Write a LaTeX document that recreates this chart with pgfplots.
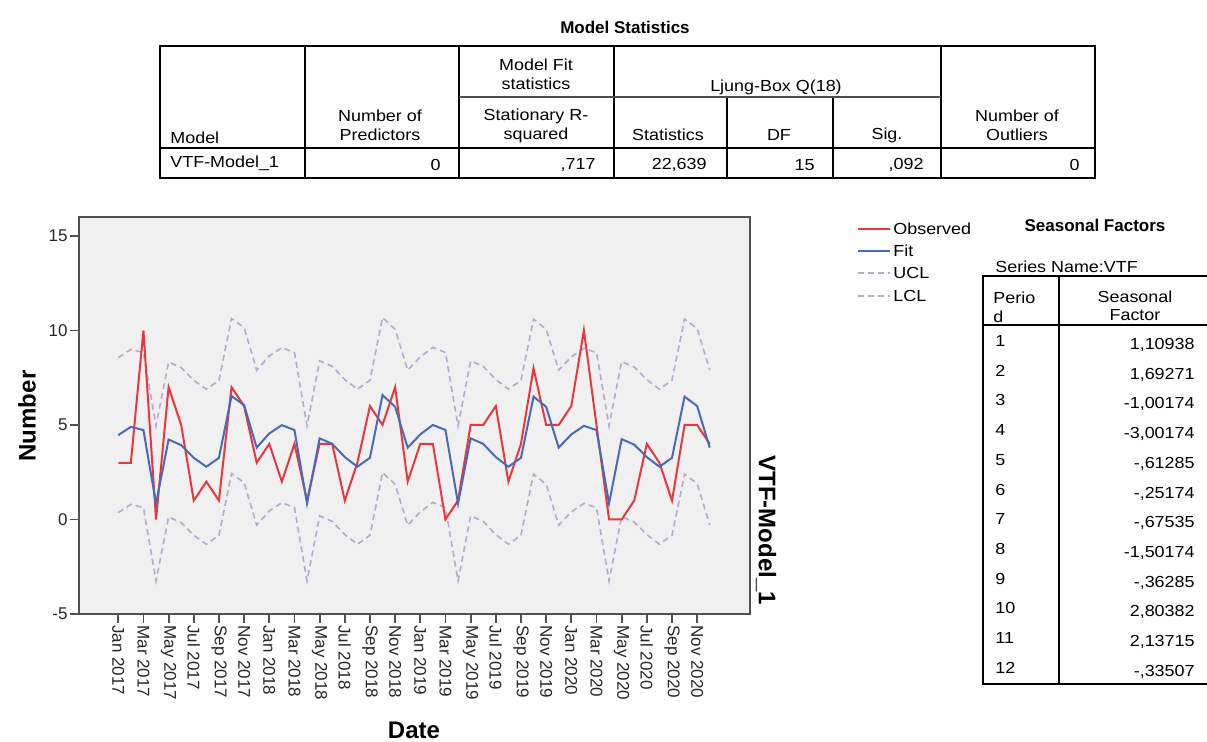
\documentclass[border=0pt]{standalone}
\usepackage{fontspec}
\setmainfont{Liberation Sans}
\newfontfamily\wide[FakeStretch=1.12]{Liberation Sans}
\usepackage{pgfplots}
\usepackage{pgfplotstable}
\pgfplotsset{compat=1.18}

\definecolor{obsred}{HTML}{E8383D}
\definecolor{fitblue}{HTML}{4A6AB8}
\definecolor{clpurple}{HTML}{B9A9CF}
\definecolor{plotbg}{HTML}{F0F0F0}
\definecolor{framegray}{HTML}{505050}

% month index (0 = Jan 2017), observed, fit, upper and lower confidence limits
\pgfplotstableread{
x  obs fit  ucl   lcl
0  3  4.46  8.56  0.36
1  3  4.90  9.00  0.80
2  10 4.73  8.83  0.63
3  0  0.85  4.95  -3.25
4  7  4.23  8.33  0.13
5  5  3.93  8.03  -0.17
6  1  3.26  7.36  -0.84
7  2  2.79  6.89  -1.31
8  1  3.26  7.36  -0.84
9  7  6.53  10.63 2.43
10 6  6.05  10.15 1.95
11 3  3.80  7.90  -0.30
12 4  4.55  8.65  0.45
13 2  4.99  9.09  0.89
14 4  4.73  8.83  0.63
15 1  0.85  4.95  -3.25
16 4  4.29  8.39  0.19
17 4  4.00  8.10  -0.10
18 1  3.30  7.40  -0.80
19 3  2.79  6.89  -1.31
20 6  3.26  7.36  -0.84
21 5  6.58  10.68 2.48
22 7  5.96  10.06 1.86
23 2  3.80  7.90  -0.30
24 4  4.50  8.60  0.40
25 4  5.00  9.10  0.90
26 0  4.73  8.83  0.63
27 1  0.85  4.95  -3.25
28 5  4.29  8.39  0.19
29 5  4.00  8.10  -0.10
30 6  3.30  7.40  -0.80
31 2  2.79  6.89  -1.31
32 4  3.26  7.36  -0.84
33 8  6.50  10.60 2.40
34 5  5.96  10.06 1.86
35 5  3.80  7.90  -0.30
36 6  4.50  8.60  0.40
37 10 4.95  9.05  0.85
38 5  4.73  8.83  0.63
39 0  0.85  4.95  -3.25
40 0  4.25  8.35  0.15
41 1  3.96  8.06  -0.14
42 4  3.30  7.40  -0.80
43 3  2.79  6.89  -1.31
44 1  3.26  7.36  -0.84
45 5  6.50  10.60 2.40
46 5  6.00  10.10 1.90
47 4  3.80  7.90  -0.30
}\vtfdata

\begin{document}
\begin{tikzpicture}
\useasboundingbox (0,0) rectangle (603.5pt,-371pt);

\begin{axis}[
    at={(39.5pt,-307pt)}, anchor=south west,
    scale only axis, width=335.5pt, height=198.5pt,
    xmin=-3.12, xmax=50.2, ymin=-5, ymax=16,
    axis background/.style={fill=plotbg},
    axis line style={framegray, line width=1pt},
    tick align=outside, xtick pos=lower, ytick pos=left,
    major tick length=4.5pt,
    tick style={framegray, line width=0.9pt},
    ytick={-5,0,5,10,15}, yticklabels={-5,0,5,10,15},
    xtick={0,2,...,46},
    xticklabels={Jan 2017,Mar 2017,May 2017,Jul 2017,Sep 2017,Nov 2017,
        Jan 2018,Mar 2018,May 2018,Jul 2018,Sep 2018,Nov 2018,
        Jan 2019,Mar 2019,May 2019,Jul 2019,Sep 2019,Nov 2019,
        Jan 2020,Mar 2020,May 2020,Jul 2020,Sep 2020,Nov 2020},
    xticklabel style={rotate=-90, anchor=west, inner sep=1pt,
        font=\fontsize{8.5pt}{9pt}\selectfont, text=black!85},
    yticklabel style={inner sep=1pt, font=\fontsize{8.5pt}{9pt}\selectfont, text=black!85},
]
\addplot[clpurple, line width=0.8pt, dash pattern=on 3pt off 2pt] table[x=x, y=ucl] {\vtfdata};
\addplot[clpurple, line width=0.8pt, dash pattern=on 3pt off 2pt] table[x=x, y=lcl] {\vtfdata};
\addplot[obsred, line width=1pt] table[x=x, y=obs] {\vtfdata};
\addplot[fitblue, line width=1pt] table[x=x, y=fit] {\vtfdata};
\end{axis}

\begin{scope}[x=0.5pt, y=-0.5pt]
% axis titles
\node[rotate=90, font=\bfseries\fontsize{12pt}{12pt}\selectfont] at (27,416) {Number};
\node[font=\bfseries\fontsize{12pt}{12pt}\selectfont] at (414,730) {Date};
\node[rotate=-90, anchor=east, font=\bfseries\fontsize{12pt}{12pt}\selectfont] at (766,612) {VTF-Model\_1};

% legend
\begin{scope}[every node/.style={anchor=west, inner sep=0pt, font=\wide\fontsize{8pt}{9pt}\selectfont}]
\draw[obsred, line width=1pt] (858,229) -- (890,229);
\node at (893,229) {Observed};
\draw[fitblue, line width=1pt] (858,251) -- (890,251);
\node at (893,251) {Fit};
\draw[clpurple, line width=0.8pt, dash pattern=on 3pt off 2pt] (858,273) -- (890,273);
\node at (893,273) {UCL};
\draw[clpurple, line width=0.8pt, dash pattern=on 3pt off 2pt] (858,296) -- (890,296);
\node at (893,296) {LCL};
\end{scope}

% Model Statistics table
\node[font=\bfseries\fontsize{8.5pt}{9pt}\selectfont] at (625,27) {Model Statistics};
\draw[line width=1pt] (160,46) rectangle (1095,178);
\draw[line width=1pt] (305,46) -- (305,178);
\draw[line width=0.8pt] (459,46) -- (459,178);
\draw[line width=0.8pt] (614,46) -- (614,178);
\draw[line width=0.8pt] (727,97) -- (727,178);
\draw[line width=0.8pt] (833,97) -- (833,178);
\draw[line width=0.8pt] (941,46) -- (941,178);
\draw[line width=0.6pt, black!70] (459,97) -- (941,97);
\draw[line width=1pt] (160,148) -- (1095,148);
\begin{scope}[every node/.style={inner sep=0pt, font=\wide\fontsize{8pt}{9pt}\selectfont}]
\node[anchor=west] at (170,138) {Model};
\node at (380,116) {Number of};
\node at (380,135) {Predictors};
\node at (536,65) {Model Fit};
\node at (536,84) {statistics};
\node at (536,116) {Stationary R-};
\node at (536,135) {squared};
\node at (776,87) {Ljung-Box Q(18)};
\node at (668,135) {Statistics};
\node at (779,135) {DF};
\node at (887,135) {Sig.};
\node at (1017,116) {Number of};
\node at (1017,135) {Outliers};
\node[anchor=west] at (170,163) {VTF-Model\_1};
\node[anchor=east] at (441,165) {0};
\node[anchor=east] at (596,165) {,717};
\node[anchor=east] at (707,165) {22,639};
\node[anchor=east] at (815,165) {15};
\node[anchor=east] at (924,165) {,092};
\node[anchor=east] at (1080,165) {0};
\end{scope}

% Seasonal Factors table
\node[font=\bfseries\fontsize{8.5pt}{9pt}\selectfont] at (1095,225) {Seasonal Factors};
\node[anchor=west, inner sep=0pt, font=\wide\fontsize{8pt}{9pt}\selectfont] at (995,267) {Series Name:VTF};
\draw[line width=1pt] (1207,276) -- (983,276) -- (983,684) -- (1207,684);
\draw[line width=1.2pt] (1059,276) -- (1059,684);
\draw[line width=1pt] (983,325) -- (1207,325);
\begin{scope}[every node/.style={inner sep=0pt, font=\wide\fontsize{8pt}{9pt}\selectfont}]
\node[anchor=west] at (993,298) {Perio};
\node[anchor=west] at (993,317) {d};
\node at (1135,297) {Seasonal};
\node at (1135,315) {Factor};
\foreach \p/\v [count=\i from 0] in {1/{1,10938},2/{1,69271},3/{-1,00174},4/{-3,00174},
    5/{-,61285},6/{-,25174},7/{-,67535},8/{-1,50174},9/{-,36285},10/{2,80382},
    11/{2,13715},12/{-,33507}} {
  \node[anchor=west] at (995,{341+29.7*\i}) {\p};
  \node[anchor=east] at (1195,{345+29.7*\i}) {\v};
}
\end{scope}
\end{scope}
\end{tikzpicture}
\end{document}
